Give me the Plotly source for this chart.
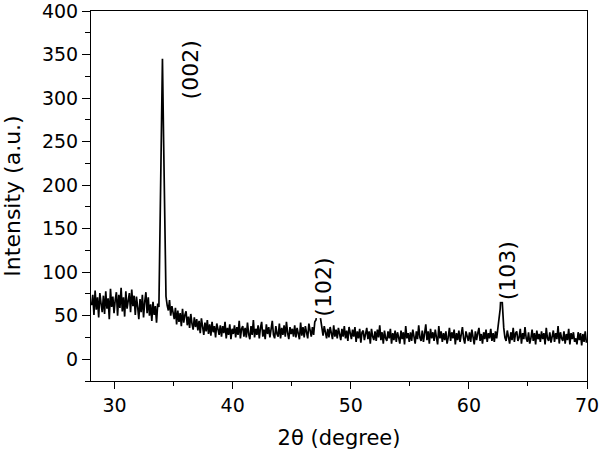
import plotly.graph_objects as go

# 2theta grid: 28.05 .. 69.95 in 0.1 deg steps (one row per degree below)
TT_START = 28.05
TT_STEP = 0.1

INTENSITY = [
    # 28
    62, 74, 51, 79, 57, 71, 48, 76, 64, 54,
    # 29
    73, 52, 78, 58, 70, 46, 81, 60, 72, 53,
    # 30
    68, 77, 50, 74, 59, 82, 55, 71, 49, 78,
    # 31
    58, 70, 76, 54, 80, 61, 73, 51, 72, 60,
    # 32
    46, 69, 54, 74, 48, 66, 77, 53, 71, 50,
    # 33
    63, 44, 66, 51, 61, 42, 64, 60, 150, 250,
    # 34  (002)
    345, 250, 155, 72, 62, 56, 68, 50, 61, 53,
    # 35
    46, 59, 40, 56, 43, 53, 38, 58, 42, 51,
    # 36
    55, 39, 49, 36, 52, 41, 34, 48, 37, 46,
    # 37
    33, 44, 30, 47, 35, 28, 42, 32, 45, 29,
    # 38
    40, 27, 43, 31, 38, 25, 41, 32, 28, 39,
    # 39
    26, 38, 30, 43, 24, 36, 28, 40, 23, 35,
    # 40
    29, 39, 25, 37, 28, 44, 24, 35, 38, 26,
    # 41
    36, 25, 42, 29, 23, 38, 28, 45, 25, 35,
    # 42
    28, 39, 24, 36, 43, 26, 34, 23, 40, 29,
    # 43
    37, 25, 35, 44, 28, 24, 38, 29, 26, 41,
    # 44
    24, 36, 28, 39, 26, 43, 30, 23, 37, 29,
    # 45
    35, 26, 39, 25, 36, 29, 23, 42, 27, 37,
    # 46
    25, 38, 29, 24, 41, 30, 26, 37, 28, 43,
    # 47  (102)
    45, 55, 62, 55, 44, 34, 27, 38, 29, 24,
    # 48
    35, 25, 37, 28, 23, 39, 26, 34, 24, 36,
    # 49
    28, 22, 35, 26, 38, 24, 33, 21, 37, 27,
    # 50
    23, 34, 26, 37, 20, 32, 24, 35, 19, 31,
    # 51
    33, 22, 31, 36, 23, 32, 18, 35, 26, 22,
    # 52
    32, 21, 34, 25, 39, 22, 31, 18, 33, 24,
    # 53
    21, 32, 24, 35, 18, 30, 22, 33, 20, 31,
    # 54
    25, 18, 33, 23, 31, 17, 38, 24, 30, 20,
    # 55
    31, 21, 34, 24, 18, 32, 23, 39, 25, 21,
    # 56
    33, 20, 30, 40, 22, 32, 18, 35, 24, 31,
    # 57
    21, 34, 25, 17, 38, 24, 32, 20, 30, 22,
    # 58
    32, 18, 25, 36, 21, 31, 24, 34, 17, 30,
    # 59
    22, 33, 20, 30, 37, 24, 18, 32, 25, 21,
    # 60
    31, 20, 34, 24, 17, 32, 22, 30, 36, 21,
    # 61
    29, 18, 31, 23, 34, 20, 30, 24, 35, 21,
    # 62  (103)
    30, 20, 32, 24, 35, 44, 58, 83, 52, 36,
    # 63
    25, 21, 33, 24, 18, 31, 22, 36, 20, 30,
    # 64
    32, 21, 25, 35, 18, 30, 23, 37, 24, 20,
    # 65
    31, 18, 24, 34, 21, 30, 17, 33, 23, 29,
    # 66
    20, 32, 23, 30, 17, 36, 24, 21, 31, 19,
    # 67
    25, 33, 20, 30, 23, 38, 18, 31, 24, 21,
    # 68
    32, 18, 29, 22, 35, 17, 30, 23, 31, 20,
    # 69
    24, 17, 31, 22, 30, 16, 29, 20, 32, 19,
]

TWO_THETA = [round(TT_START + i * TT_STEP, 2) for i in range(len(INTENSITY))]

PEAK_LABELS = ["(002)", "(102)", "(103)"]
PEAK_LABEL_X = [36.4, 47.7, 63.3]
PEAK_LABEL_Y = [332, 83, 102]

FONT = "DejaVu Sans, Arial, sans-serif"

fig = go.Figure(go.Scatter(
    x=TWO_THETA, y=INTENSITY, mode="lines",
    line=dict(color="black", width=1.7), showlegend=False,
))

for txt, px_, py_ in zip(PEAK_LABELS, PEAK_LABEL_X, PEAK_LABEL_Y):
    fig.add_annotation(x=px_, y=py_, text=txt, textangle=-90, showarrow=False,
                       font=dict(size=22, color="black", family=FONT),
                       bgcolor="white")

axis_common = dict(
    showline=True, linecolor="black", linewidth=1, mirror=True,
    ticks="outside", tickcolor="black", showgrid=False, zeroline=False,
    tickfont=dict(size=19, color="black", family=FONT), automargin=False,
    ticklabeloverflow="allow",
)

fig.update_xaxes(range=[28, 70], dtick=10, tick0=30, ticklen=7,
                 minor=dict(ticks="outside", dtick=5, tick0=30, ticklen=4, tickcolor="black"),
                 title=dict(text="2θ (degree)", font=dict(size=21, color="black", family=FONT)),
                 **axis_common)
fig.update_yaxes(range=[-25, 400], dtick=50, tick0=0, ticklen=8,
                 minor=dict(ticks="outside", dtick=25, tick0=0, ticklen=5, tickcolor="black"),
                 title=dict(text="Intensity (a.u.)", font=dict(size=22, color="black", family=FONT)),
                 **axis_common)

fig.update_layout(
    width=600, height=450,
    margin=dict(l=91, r=13, t=11, b=69),
    plot_bgcolor="white", paper_bgcolor="white",
)

# drop the page's default body margin so the figure sits at (0, 0)
fig.write_html("out.html", config={"displayModeBar": False},
               post_script="document.body.style.margin='0';")
